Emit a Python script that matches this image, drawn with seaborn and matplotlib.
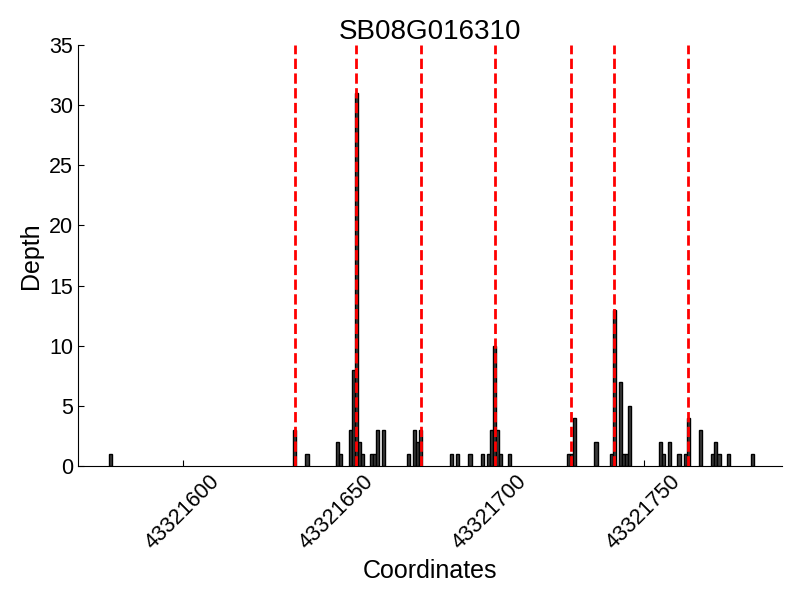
import matplotlib
matplotlib.use("Agg")
import matplotlib.pyplot as plt
import matplotlib.ticker as mticker
import seaborn as sns
import pandas as pd

GENE = "SB08G016310"

# covered positions (left edge of each 1bp bin) and read depth
positions = [43321576, 43321636, 43321640, 43321650, 43321651, 43321654, 43321655,
             43321656, 43321657, 43321658, 43321661, 43321662, 43321663, 43321665,
             43321673, 43321675, 43321676, 43321677, 43321687, 43321689, 43321693,
             43321697, 43321699, 43321700, 43321701, 43321702, 43321703, 43321706,
             43321725, 43321726, 43321727, 43321734, 43321739, 43321740, 43321742,
             43321743, 43321744, 43321745, 43321755, 43321756, 43321758, 43321761,
             43321763, 43321764, 43321768, 43321772, 43321773, 43321774, 43321777,
             43321785]
depth = [1, 3, 1, 2, 1, 3, 8,
         31, 2, 1, 1, 1, 3, 3,
         1, 3, 2, 3, 1, 1, 1,
         1, 1, 3, 10, 3, 1, 1,
         1, 1, 4, 2, 1, 13, 7,
         1, 1, 5, 2, 1, 2, 1,
         1, 4, 3, 1, 2, 1, 1,
         1]

# exon boundaries
boundaries = [43321636, 43321656, 43321677, 43321701, 43321726, 43321740, 43321764]

x_ticks = [43321600, 43321650, 43321700, 43321750]

df = pd.DataFrame({"pos": positions, "depth": depth})

sns.set_style("ticks")
plt.rcParams["font.family"] = ["Liberation Sans", "DejaVu Sans"]
plt.rcParams["xtick.direction"] = "in"
plt.rcParams["ytick.direction"] = "in"
for k in ["text.color", "axes.labelcolor", "xtick.color", "ytick.color", "axes.edgecolor"]:
    plt.rcParams[k] = "black"

fig = plt.figure(figsize=(8, 6), dpi=100)
ax = fig.add_axes([0.0975, 0.2233, 0.88, 0.7017])

sns.histplot(data=df, x="pos", weights="depth", binwidth=1,
             binrange=(min(positions), max(positions) + 1), ax=ax,
             color="#3c3c3c", edgecolor="black", linewidth=1, alpha=1)

# drop the empty bins
for p in list(ax.patches):
    if p.get_height() == 0:
        p.remove()

for b in boundaries:
    ax.axvline(b + 0.5, color="red", linestyle="--", linewidth=2, zorder=5)

ax.set_xlim(min(positions) - 10, max(positions) + 10)
ax.set_ylim(0, 35)
ax.set_xticks(x_ticks)
ax.xaxis.set_major_formatter(mticker.FormatStrFormatter("%d"))
ax.set_yticks(range(0, 36, 5))
ax.tick_params(axis="both", labelsize=15.5, length=4, top=False, right=False)
plt.setp(ax.get_xticklabels(), rotation=45, ha="center")

sns.despine(ax=ax)
ax.set_title(GENE, fontsize=20, pad=3)
ax.set_xlabel("Coordinates", fontsize=18)
ax.set_ylabel("Depth", fontsize=18)

fig.savefig("out.png", dpi=100)
